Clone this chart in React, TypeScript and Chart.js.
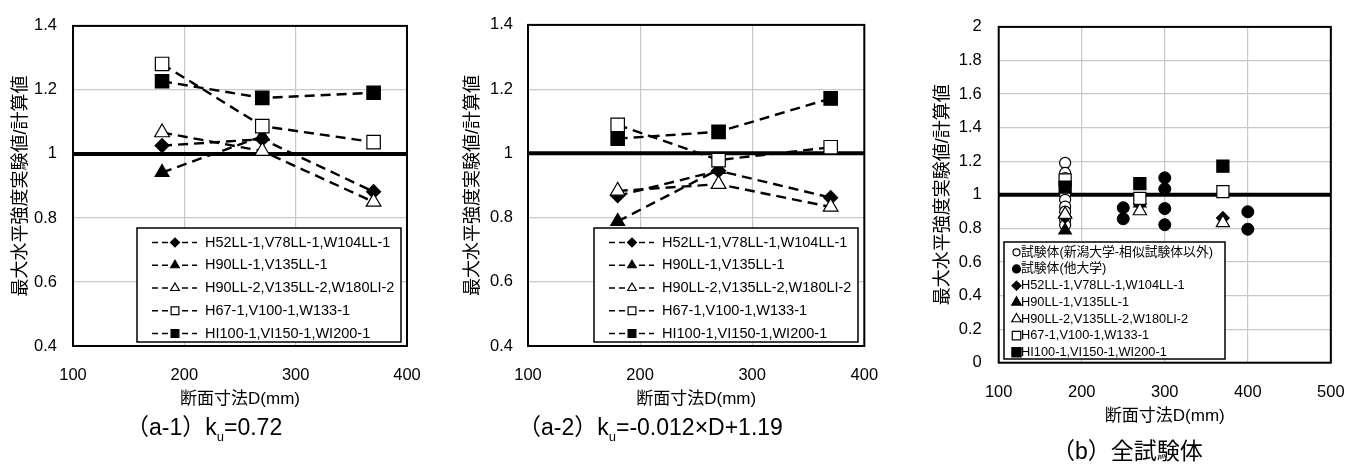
import React, { useEffect, useRef } from 'react';
import { Chart, registerables } from 'chart.js';

Chart.register(...registerables);

const FONT = "'Liberation Sans', 'Noto Sans CJK JP', sans-serif";

// ---------- text ----------
const X_LABEL = '断面寸法D(mm)';
const Y_LABEL = '最大水平強度実験値/計算値';
const SERIES_NAMES = [
  'H52LL-1,V78LL-1,W104LL-1',
  'H90LL-1,V135LL-1',
  'H90LL-2,V135LL-2,W180LI-2',
  'H67-1,V100-1,W133-1',
  'HI100-1,VI150-1,WI200-1',
];
const B_OPEN_NAME = '試験体(新潟大学-相似試験体以外)';
const B_OTHER_NAME = '試験体(他大学)';

// ---------- data ----------
const D_THREE = [180, 270, 370];
const D_TWO = [180, 270];

// (a-1) ku = 0.72
const A1_H52 = [1.026, 1.046, 0.882];
const A1_H90_1 = [0.942, 1.055];
const A1_H90_2 = [1.067, 1.009, 0.85];
const A1_H67 = [1.281, 1.087, 1.037];
const A1_HI100 = [1.227, 1.175, 1.191];

// (a-2) ku = -0.012 x D + 1.19
const A2_H52 = [0.868, 0.946, 0.862];
const A2_H90_1 = [0.788, 0.95];
const A2_H90_2 = [0.883, 0.904, 0.833];
const A2_H67 = [1.089, 0.979, 1.019];
const A2_HI100 = [1.046, 1.067, 1.171];

// (b) all specimens
const B_OPEN_D = [180, 180, 180, 180, 180, 180, 180, 180, 180, 180];
const B_OPEN_VALUES = [1.19, 1.13, 1.1, 1.06, 1.0, 0.97, 0.93, 0.9, 0.85, 0.82];
const B_OTHER_D = [250, 250, 300, 300, 300, 300, 400, 400];
const B_OTHER_VALUES = [0.923, 0.857, 1.101, 1.035, 0.918, 0.822, 0.899, 0.795];

const REF_VALUE = 1;
const A_X_RANGE = [100, 400];
const A_Y_RANGE = [0.4, 1.4];
const B_X_RANGE = [100, 500];
const B_Y_RANGE = [0, 2];

// ---------- styles ----------
type Marker = { style: string; fill: string; r: number; lr: number };
const MARKERS: Marker[] = [
  { style: 'rectRot', fill: '#000', r: 7, lr: 4.5 },
  { style: 'triangle', fill: '#000', r: 8, lr: 5 },
  { style: 'triangle', fill: '#fff', r: 8.5, lr: 5 },
  { style: 'rect', fill: '#fff', r: 9.5, lr: 5.5 },
  { style: 'rect', fill: '#000', r: 9.5, lr: 5.5 },
];

function pts(xs: number[], ys: number[]) {
  return ys.map((y, i) => ({ x: xs[i], y }));
}

function drawMarker(ctx: CanvasRenderingContext2D, m: Marker, x: number, y: number, r: number) {
  ctx.save();
  ctx.beginPath();
  if (m.style === 'rect') {
    const s = Math.SQRT1_2 * r;
    ctx.rect(x - s, y - s, 2 * s, 2 * s);
  } else if (m.style === 'rectRot') {
    ctx.moveTo(x - r, y);
    ctx.lineTo(x, y - r);
    ctx.lineTo(x + r, y);
    ctx.lineTo(x, y + r);
    ctx.closePath();
  } else if (m.style === 'triangle') {
    ctx.moveTo(x, y - r);
    ctx.lineTo(x + r * 0.866, y + r * 0.5);
    ctx.lineTo(x - r * 0.866, y + r * 0.5);
    ctx.closePath();
  } else {
    ctx.arc(x, y, r, 0, Math.PI * 2);
  }
  ctx.fillStyle = m.fill;
  ctx.fill();
  ctx.strokeStyle = '#000';
  ctx.lineWidth = 1.2;
  ctx.setLineDash([]);
  ctx.stroke();
  ctx.restore();
}

const framePlugin = {
  id: 'frame',
  beforeDatasetsDraw(chart: any) {
    const { ctx, chartArea } = chart;
    ctx.save();
    ctx.strokeStyle = '#000';
    ctx.lineWidth = 2;
    ctx.strokeRect(chartArea.left, chartArea.top, chartArea.right - chartArea.left, chartArea.bottom - chartArea.top);
    ctx.restore();
  },
};

type LegendCfg = {
  left: number; top: number; right: number; bottom: number;
  firstY: number; step: number;
  lineFrom?: number; lineTo?: number;
  markerX: number; textX: number; font: string;
  items: { text: string; marker: Marker }[];
};

function makeLegendPlugin(cfg: LegendCfg) {
  return {
    id: 'boxLegend',
    afterDraw(chart: any) {
      const ctx: CanvasRenderingContext2D = chart.ctx;
      ctx.save();
      ctx.fillStyle = '#fff';
      ctx.fillRect(cfg.left, cfg.top, cfg.right - cfg.left, cfg.bottom - cfg.top);
      ctx.strokeStyle = '#000';
      ctx.lineWidth = 1.5;
      ctx.strokeRect(cfg.left, cfg.top, cfg.right - cfg.left, cfg.bottom - cfg.top);
      cfg.items.forEach((it, i) => {
        const y = cfg.firstY + i * cfg.step;
        if (cfg.lineFrom !== undefined && cfg.lineTo !== undefined) {
          ctx.beginPath();
          ctx.setLineDash([6, 4]);
          ctx.lineWidth = 1.5;
          ctx.strokeStyle = '#000';
          ctx.moveTo(cfg.lineFrom, y);
          ctx.lineTo(cfg.lineTo, y);
          ctx.stroke();
          ctx.setLineDash([]);
        }
        drawMarker(ctx, it.marker, cfg.markerX, y, it.marker.lr);
        ctx.fillStyle = '#000';
        ctx.font = cfg.font;
        ctx.textBaseline = 'middle';
        ctx.textAlign = 'left';
        ctx.fillText(it.text, cfg.textX, y);
      });
      ctx.restore();
    },
  };
}

type PanelGeom = {
  width: number;
  padLeft: number; padTop: number; padRight: number; padBottom: number;
  yAxisWidth: number; xAxisHeight: number;
  yTickPad: number; yTitlePad: number; xTickPad: number;
};

function baseScales(g: PanelGeom, xr: number[], yr: number[], xStep: number) {
  return {
    x: {
      type: 'linear',
      min: xr[0],
      max: xr[1],
      ticks: {
        stepSize: xStep,
        font: { family: FONT, size: 16.5 },
        color: '#000',
        padding: g.xTickPad,
        maxRotation: 0,
        autoSkip: false,
      },
      grid: { color: '#c8c8c8', lineWidth: 1.2, drawTicks: false },
      border: { display: false },
      title: {
        display: true,
        text: X_LABEL,
        font: { family: FONT, size: 17 },
        color: '#000',
        padding: { top: 0, bottom: 0 },
      },
      afterFit: (s: any) => { s.height = g.xAxisHeight; },
    },
    y: {
      type: 'linear',
      min: yr[0],
      max: yr[1],
      ticks: {
        stepSize: 0.2,
        font: { family: FONT, size: 16.5 },
        color: '#000',
        padding: g.yTickPad,
        callback: (v: any) => String(Math.round(Number(v) * 10) / 10),
      },
      grid: { color: '#c8c8c8', lineWidth: 1.2, drawTicks: false },
      border: { display: false },
      title: {
        display: true,
        text: Y_LABEL,
        font: { family: FONT, size: 18 },
        color: '#000',
        padding: { top: g.yTitlePad, bottom: 0 },
      },
      afterFit: (s: any) => { s.width = g.yAxisWidth; },
    },
  };
}

function refLine(xr: number[]) {
  return {
    label: 'ref',
    data: [{ x: xr[0], y: REF_VALUE }, { x: xr[1], y: REF_VALUE }],
    showLine: true,
    borderColor: '#000',
    borderWidth: 4,
    pointRadius: 0,
    order: 100,
  };
}

function seriesDatasets(series: number[][], showLine: boolean, scale: number) {
  return series.map((vals, i) => {
    const m = MARKERS[i];
    const xs = vals.length === 2 ? D_TWO : D_THREE;
    return {
      label: SERIES_NAMES[i],
      data: pts(xs, vals),
      showLine,
      borderColor: '#000',
      borderWidth: 2.4,
      borderDash: [10, 6],
      tension: 0,
      pointStyle: m.style,
      pointRadius: m.r * scale,
      pointBackgroundColor: m.fill,
      pointBorderColor: '#000',
      pointBorderWidth: 1.2,
      order: 50 - i,
    };
  });
}

function panelA(series: number[][], g: PanelGeom, legendLeft: number): any {
  const legend = makeLegendPlugin({
    left: legendLeft, top: 228, right: legendLeft + 264, bottom: 342,
    firstY: 242.5, step: 22.75,
    lineFrom: legendLeft + 15, lineTo: legendLeft + 60,
    markerX: legendLeft + 38, textX: legendLeft + 68,
    font: `14.5px ${FONT}`,
    items: SERIES_NAMES.map((t, i) => ({ text: t, marker: MARKERS[i] })),
  });
  return {
    type: 'scatter',
    data: { datasets: [...seriesDatasets(series, true, 1), refLine(A_X_RANGE)] },
    options: {
      responsive: false,
      animation: false,
      layout: { padding: { left: g.padLeft, top: g.padTop, right: g.padRight, bottom: g.padBottom } },
      plugins: { legend: { display: false }, tooltip: { enabled: false } },
      scales: baseScales(g, A_X_RANGE, A_Y_RANGE, 100),
    },
    plugins: [framePlugin, legend],
  };
}

function panelB(g: PanelGeom): any {
  const openM: Marker = { style: 'circle', fill: '#fff', r: 5.5, lr: 3.5 };
  const fillM: Marker = { style: 'circle', fill: '#000', r: 6, lr: 4 };
  const legendMarkers: Marker[] = [
    openM, fillM,
    { ...MARKERS[0], lr: 4.5 },
    { ...MARKERS[1], lr: 5.5 },
    { ...MARKERS[2], lr: 5.5 },
    { ...MARKERS[3], lr: 6 },
    { ...MARKERS[4], lr: 6.5 },
  ];
  const names = [B_OPEN_NAME, B_OTHER_NAME, ...SERIES_NAMES];
  const legend = makeLegendPlugin({
    left: 94, top: 242, right: 315, bottom: 359,
    firstY: 252.3, step: 16.67,
    markerX: 106.5, textX: 111,
    font: `12.8px ${FONT}`,
    items: names.map((t, i) => ({ text: t, marker: legendMarkers[i] })),
  });
  const circles = [
    {
      label: B_OPEN_NAME,
      data: pts(B_OPEN_D, B_OPEN_VALUES),
      showLine: false,
      pointStyle: 'circle',
      pointRadius: openM.r,
      pointBackgroundColor: '#fff',
      pointBorderColor: '#000',
      pointBorderWidth: 1.2,
      order: 60,
    },
    {
      label: B_OTHER_NAME,
      data: pts(B_OTHER_D, B_OTHER_VALUES),
      showLine: false,
      pointStyle: 'circle',
      pointRadius: fillM.r,
      pointBackgroundColor: '#000',
      pointBorderColor: '#000',
      pointBorderWidth: 1,
      order: 59,
    },
  ];
  const series = [A2_H52, A2_H90_1, A2_H90_2, A2_H67, A2_HI100];
  return {
    type: 'scatter',
    data: { datasets: [...circles, ...seriesDatasets(series, false, 0.9), refLine(B_X_RANGE)] },
    options: {
      responsive: false,
      animation: false,
      layout: { padding: { left: g.padLeft, top: g.padTop, right: g.padRight, bottom: g.padBottom } },
      plugins: { legend: { display: false }, tooltip: { enabled: false } },
      scales: baseScales(g, B_X_RANGE, B_Y_RANGE, 100),
    },
    plugins: [framePlugin, legend],
  };
}

const G1: PanelGeom = {
  width: 455, padLeft: 0, padTop: 13, padRight: 48, padBottom: 56,
  yAxisWidth: 73, xAxisHeight: 64, yTickPad: 16, yTitlePad: 10, xTickPad: 20,
};
const G2: PanelGeom = {
  width: 455, padLeft: 0, padTop: 13, padRight: 45.7, padBottom: 56,
  yAxisWidth: 73, xAxisHeight: 64, yTickPad: 15, yTitlePad: 7.5, xTickPad: 20,
};
const G3: PanelGeom = {
  width: 454, padLeft: 0, padTop: 14, padRight: 29, padBottom: 39.3,
  yAxisWidth: 88.7, xAxisHeight: 64, yTickPad: 17, yTitlePad: 22, xTickPad: 19.4,
};

function ChartCanvas({ left, width, make }: { left: number; width: number; make: () => any }) {
  const ref = useRef<HTMLCanvasElement>(null);
  useEffect(() => {
    if (!ref.current) return;
    const chart = new Chart(ref.current, make());
    return () => chart.destroy();
  }, []);
  return (
    <canvas
      ref={ref}
      width={width}
      height={466}
      style={{ position: 'absolute', left, top: 0, width, height: 466 }}
    />
  );
}

const capStyle = (left: number, top: number, size: number): React.CSSProperties => ({
  position: 'absolute',
  left,
  top,
  fontFamily: FONT,
  fontSize: size,
  lineHeight: '26px',
  whiteSpace: 'nowrap',
  color: '#000',
});
const subStyle: React.CSSProperties = { fontSize: 13, position: 'relative', top: 6 };

export default function App() {
  return (
    <div style={{ position: 'absolute', left: 0, top: 0, width: 1364, height: 466, background: '#fff', overflow: 'hidden' }}>
      <ChartCanvas left={0} width={455} make={() => panelA([A1_H52, A1_H90_1, A1_H90_2, A1_H67, A1_HI100], G1, 137)} />
      <ChartCanvas left={455} width={455} make={() => panelA([A2_H52, A2_H90_1, A2_H90_2, A2_H67, A2_HI100], G2, 139)} />
      <ChartCanvas left={910} width={454} make={() => panelB(G3)} />
      <div style={capStyle(126, 414, 23)}>
        （a-1）k<span style={subStyle}>u</span>=0.72
      </div>
      <div style={capStyle(518, 414, 23)}>
        （a-2）k<span style={subStyle}>u</span>=-0.012×D+1.19
      </div>
      <div style={capStyle(1052, 438, 23)}>（b）全試験体</div>
    </div>
  );
}
